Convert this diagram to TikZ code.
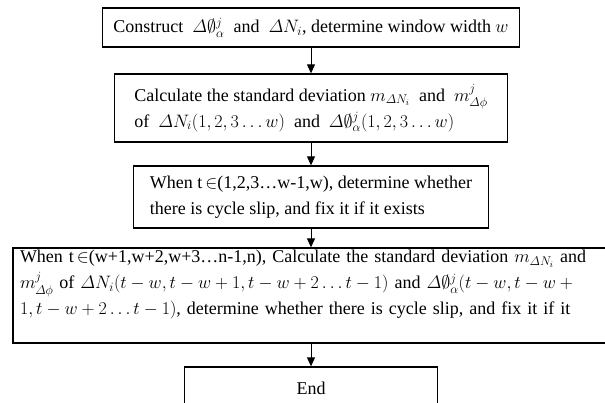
\RequirePackage{fix-cm}
\documentclass[tikz,border=0pt]{standalone}
\usepackage{amsmath,amssymb}
\usepackage[no-math]{fontspec}
\setmainfont{Liberation Serif}
\usetikzlibrary{arrows.meta,positioning,calc}
\newcommand{\FlowX}{311}
\newcommand{\SlideX}{319}
\newcommand{\dN}{\varDelta N_{i}}
\newcommand{\dPhi}{\varDelta\emptyset^{j}_{\alpha}}
\newcommand{\mN}{m_{\varDelta N_{i}}}
\newcommand{\mPhi}{m^{j}_{\varDelta\phi}}

\begin{document}
\begin{tikzpicture}[
    x=1pt, y=-1pt,
    font=\fontsize{18}{26}\selectfont,
    flowbox/.style={draw=black, line width=1.3pt, fill=white, align=left, inner sep=0pt},
    flowarrow/.style={-{Triangle[length=9pt,width=8pt]}, line width=0.9pt, draw=black},
  ]
\useasboundingbox (0,0) rectangle (605,402);

% --- The steps, top to bottom -----------------------------------------------------
\node[flowbox, minimum width=417pt, minimum height=39pt] (construct) at (\FlowX, 27.5)
  {Construct \ $\dPhi$ \ and \ $\dN$, determine window width $w$};
\node[flowbox, minimum width=393pt, minimum height=68pt] (deviation) at (\FlowX, 108)
  {Calculate the standard deviation $\mN$ \ and \ $\mPhi$\\
   of \ $\dN(1,2,3\ldots w)$ \ and \ $\dPhi(1,2,3\ldots w)$};
\node[flowbox, minimum width=355pt, minimum height=62pt] (firstwin) at (\FlowX, 197)
  {When t\,$\in$(1,2,3\dots w-1,w), determine whether\\
   there is cycle slip, and fix it if it exists};
\node[flowbox, text width=598pt, inner xsep=7pt, minimum height=95pt] (slidewin) at (\SlideX, 295.5)
  {When t\,$\in$(w+1,w+2,w+3\dots n-1,n), Calculate the standard deviation $\mN$ and\\
   $\mPhi$ of $\dN(t-w,t-w+1,t-w+2\ldots t-1)$ and $\dPhi(t-w,t-w+{}$\\
   $1,t-w+2\ldots t-1)$, determine whether there is cycle slip, and fix it if it\\
   \mbox{}};
\node[flowbox, minimum width=253pt, minimum height=43pt, align=center] (finish) at (\FlowX, 388.5) {End};

% --- Connectors --------------------------------------------------------------------
\draw[flowarrow] (construct) -- (deviation);
\draw[flowarrow] (deviation) -- (firstwin);
\draw[flowarrow] (firstwin.south) -- (firstwin.south |- slidewin.north);
\draw[flowarrow] (slidewin.south -| finish.north) -- (finish.north);

\end{tikzpicture}
\end{document}
